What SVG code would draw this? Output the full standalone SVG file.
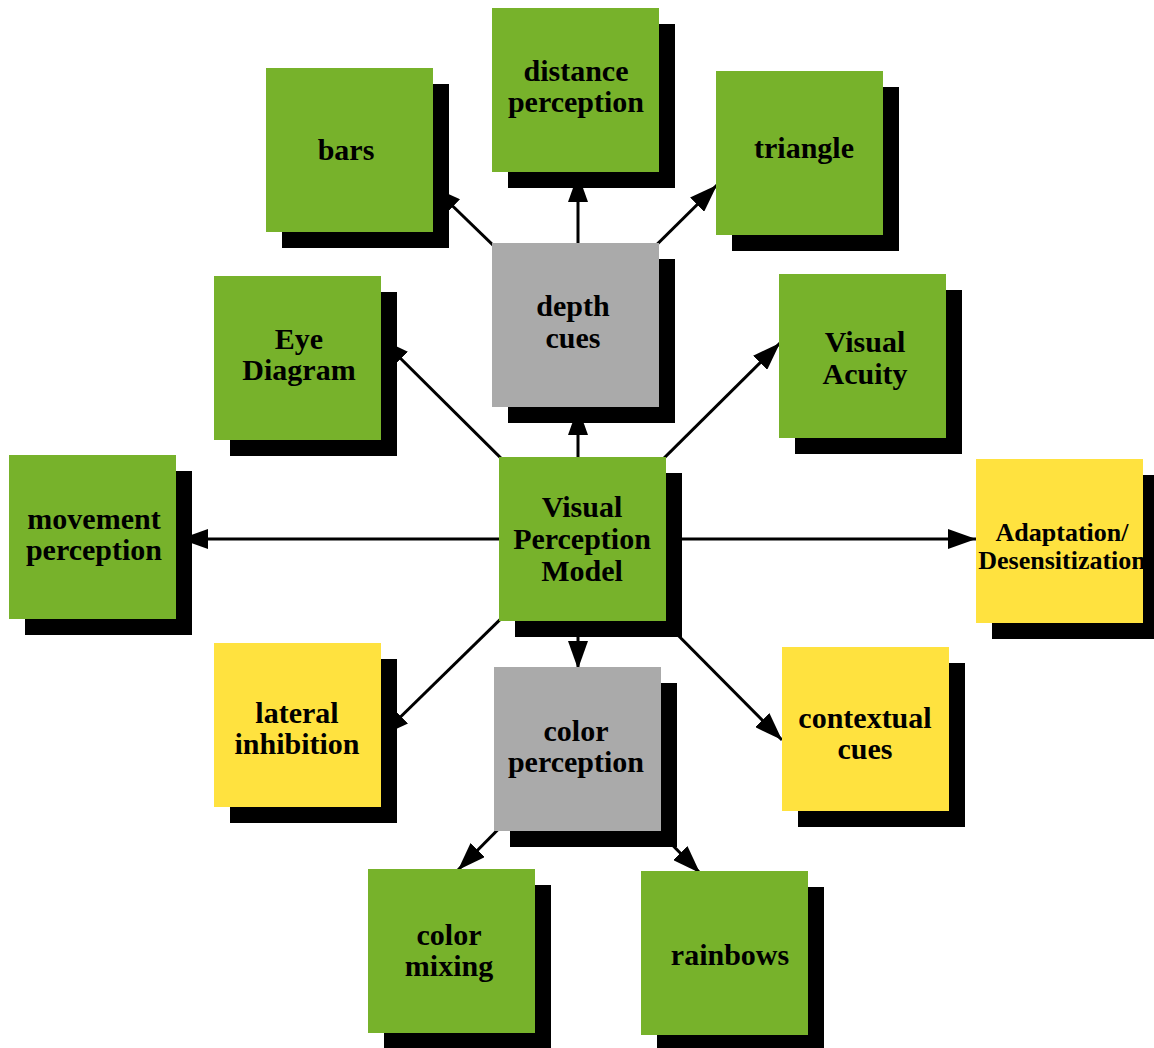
<svg xmlns="http://www.w3.org/2000/svg" width="1154" height="1048" viewBox="0 0 1154 1048">
<style>
.sh{fill:#000}
.g{fill:#77b22b}
.y{fill:#ffe23f}
.gr{fill:#aaaaaa}
.t{font-family:"Liberation Serif","Times New Roman",serif;font-weight:bold;font-size:30px;fill:#000;text-anchor:middle}
.ts{font-size:26px}
.c{stroke:#000;stroke-width:3;fill:none;marker-end:url(#ah)}
</style>
<defs>
<marker id="ah" markerUnits="userSpaceOnUse" viewBox="0 0 28 20" markerWidth="28" markerHeight="20" refX="28" refY="10" orient="auto">
<path d="M0,0 L28,10 L0,20 z" fill="#000"/>
</marker>
</defs>
<g id="connectors">
<line class="c" x1="578" y1="539" x2="578" y2="407"/>
<line class="c" x1="578" y1="325" x2="578" y2="174"/>
<line class="c" x1="575.5" y1="325" x2="433" y2="187"/>
<line class="c" x1="575.5" y1="325" x2="717" y2="185"/>
<line class="c" x1="582.5" y1="539" x2="381" y2="339"/>
<line class="c" x1="582.5" y1="539" x2="780" y2="343"/>
<line class="c" x1="582.5" y1="539" x2="180" y2="539"/>
<line class="c" x1="582.5" y1="539" x2="976" y2="539"/>
<line class="c" x1="582.5" y1="539" x2="381" y2="736"/>
<line class="c" x1="582.5" y1="539" x2="782" y2="740"/>
<line class="c" x1="578" y1="539" x2="578" y2="669"/>
<line class="c" x1="577.5" y1="749" x2="458" y2="870"/>
<line class="c" x1="577.5" y1="749" x2="700" y2="873"/>
</g>
<g id="bars">
<rect class="sh" x="282" y="84" width="167" height="164"/>
<rect class="g" x="266" y="68" width="167" height="164"/>
<text class="t" x="346" y="160">bars</text>
</g>
<g id="distance-perception">
<rect class="sh" x="508" y="24" width="167" height="164"/>
<rect class="g" x="492" y="8" width="167" height="164"/>
<text class="t" x="576" y="81">distance</text>
<text class="t" x="576" y="112">perception</text>
</g>
<g id="triangle">
<rect class="sh" x="732" y="87" width="167" height="164"/>
<rect class="g" x="716" y="71" width="167" height="164"/>
<text class="t" x="804" y="158">triangle</text>
</g>
<g id="depth-cues">
<rect class="sh" x="508" y="259" width="167" height="164"/>
<rect class="gr" x="492" y="243" width="167" height="164"/>
<text class="t" x="573" y="316">depth</text>
<text class="t" x="573" y="348">cues</text>
</g>
<g id="eye-diagram">
<rect class="sh" x="230" y="292" width="167" height="164"/>
<rect class="g" x="214" y="276" width="167" height="164"/>
<text class="t" x="299" y="349">Eye</text>
<text class="t" x="299" y="380">Diagram</text>
</g>
<g id="visual-acuity">
<rect class="sh" x="795" y="290" width="167" height="164"/>
<rect class="g" x="779" y="274" width="167" height="164"/>
<text class="t" x="865" y="352">Visual</text>
<text class="t" x="865" y="384">Acuity</text>
</g>
<g id="movement-perception">
<rect class="sh" x="25" y="471" width="167" height="164"/>
<rect class="g" x="9" y="455" width="167" height="164"/>
<text class="t" x="94" y="529">movement</text>
<text class="t" x="94" y="560">perception</text>
</g>
<g id="visual-perception-model">
<rect class="sh" x="515" y="473" width="167" height="164"/>
<rect class="g" x="499" y="457" width="167" height="164"/>
<text class="t" x="582" y="517">Visual</text>
<text class="t" x="582" y="549">Perception</text>
<text class="t" x="582" y="581">Model</text>
</g>
<g id="adaptation">
<rect class="sh" x="992" y="475" width="167" height="164"/>
<rect class="y" x="976" y="459" width="167" height="164"/>
<text class="t ts" x="1062" y="541">Adaptation/</text>
<text class="t ts" x="1062" y="569">Desensitization</text>
</g>
<g id="lateral-inhibition">
<rect class="sh" x="230" y="659" width="167" height="164"/>
<rect class="y" x="214" y="643" width="167" height="164"/>
<text class="t" x="297" y="723">lateral</text>
<text class="t" x="297" y="754">inhibition</text>
</g>
<g id="color-perception">
<rect class="sh" x="510" y="683" width="167" height="164"/>
<rect class="gr" x="494" y="667" width="167" height="164"/>
<text class="t" x="576" y="741">color</text>
<text class="t" x="576" y="772">perception</text>
</g>
<g id="contextual-cues">
<rect class="sh" x="798" y="663" width="167" height="164"/>
<rect class="y" x="782" y="647" width="167" height="164"/>
<text class="t" x="865" y="728">contextual</text>
<text class="t" x="865" y="759">cues</text>
</g>
<g id="color-mixing">
<rect class="sh" x="384" y="885" width="167" height="164"/>
<rect class="g" x="368" y="869" width="167" height="164"/>
<text class="t" x="449" y="945">color</text>
<text class="t" x="449" y="976">mixing</text>
</g>
<g id="rainbows">
<rect class="sh" x="657" y="887" width="167" height="164"/>
<rect class="g" x="641" y="871" width="167" height="164"/>
<text class="t" x="730" y="965">rainbows</text>
</g>
</svg>
